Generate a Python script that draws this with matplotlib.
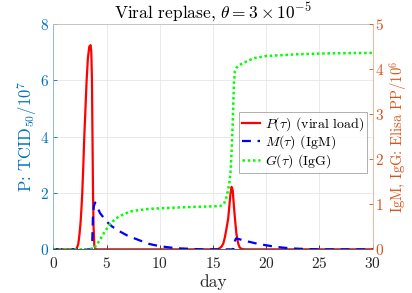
import numpy as np
import matplotlib
matplotlib.use('Agg')
import matplotlib.pyplot as plt

plt.rcParams['font.family'] = 'serif'
plt.rcParams['font.serif'] = ['cmr10']
plt.rcParams['mathtext.fontset'] = 'cm'
plt.rcParams['axes.formatter.use_mathtext'] = True

# P(tau): viral load, left axis (TCID50 / 1e7)
t_p = [0, 2.0, 2.2, 2.35, 2.45, 2.57, 2.65, 2.72, 2.82, 2.91, 3.02, 3.13, 3.25, 3.38,
       3.5, 3.57, 3.63, 3.68, 3.73, 3.78, 3.85, 3.95, 4.1,
       15.3, 15.6, 15.8, 15.96, 16.1, 16.25, 16.43, 16.55, 16.65, 16.75, 16.85, 16.95,
       17.06, 17.2, 17.37, 17.5, 17.7, 18.0, 30]
p_vals = [0, 0, 0.03, 0.2, 0.5, 1.0, 1.5, 2.0, 3.0, 4.0, 5.0, 6.0, 6.8, 7.2,
          7.25, 7.0, 6.0, 4.0, 2.0, 0.8, 0.15, 0.02, 0,
          0, 0.03, 0.1, 0.2, 0.4, 0.7, 1.1, 1.6, 2.0, 2.22, 2.1, 1.6,
          1.1, 0.55, 0.2, 0.07, 0.01, 0, 0]

# M(tau): IgM, right axis (Elisa PP / 1e6)
t_m = [0, 3.6, 3.66, 3.72, 3.8, 3.92, 4.1, 4.4, 5.0, 5.5, 6.3, 7.0, 8.1, 9.0, 10, 11,
       12, 13, 14, 16.9, 16.95, 17.05, 17.15, 17.4, 18, 19.25, 20, 20.8, 21.5, 22.4,
       23.5, 25, 30]
m_vals = [0, 0, 0.2, 0.7, 0.95, 1.04, 0.95, 0.8, 0.62, 0.51, 0.39, 0.3, 0.2, 0.12, 0.07,
          0.04, 0.02, 0.01, 0, 0, 0.05, 0.18, 0.24, 0.23, 0.19, 0.12, 0.09, 0.06, 0.04,
          0.02, 0.01, 0, 0]

# G(tau): IgG, right axis
t_g = [0, 3.7, 3.8, 4.0, 4.38, 4.8, 5.32, 5.8, 6.26, 7.2, 8.0, 9.08, 10.96, 12.8, 14.5,
       15.65, 16.0, 16.2, 16.4, 16.55, 16.66, 16.75, 16.85, 16.97, 17.06, 17.2, 17.5,
       17.8, 18.8, 20, 23, 26, 30]
g_vals = [0, 0, 0.02, 0.08, 0.21, 0.38, 0.56, 0.67, 0.74, 0.84, 0.87, 0.9, 0.92, 0.94,
          0.95, 0.96, 1.0, 1.1, 1.3, 1.5, 1.76, 2.2, 2.8, 3.7, 3.95, 4.03, 4.09, 4.13,
          4.24, 4.29, 4.33, 4.35, 4.36]

x_ticks = [0, 5, 10, 15, 20, 25, 30]
left_ticks = [0, 2, 4, 6, 8]
right_ticks = [0, 1, 2, 3, 4, 5]

c_left = '#0072BD'
c_right = '#D95319'

fig = plt.figure(figsize=(4.12, 2.93), dpi=100)
ax = fig.add_axes([0.1294, 0.149, 0.7752, 0.769])
ax2 = ax.twinx()

lp, = ax.plot(t_p, p_vals, color='red', lw=1.6, label=r'$P(\tau)$ (viral load)')
lm, = ax2.plot(t_m, m_vals, color='blue', lw=1.6, ls=(0, (4, 3)), label=r'$M(\tau)$ (IgM)')
lg, = ax2.plot(t_g, g_vals, color='#00FF00', lw=1.8, ls=(0, (1, 1.1)), label=r'$G(\tau)$ (IgG)')

ax.set_xlim(0, 30)
ax.set_ylim(0, 8)
ax2.set_ylim(0, 5)
ax.set_xticks(x_ticks)
ax.set_yticks(left_ticks)
ax2.set_yticks(right_ticks)

ax.grid(True, color='#e6e6e6', lw=0.6)
ax.set_axisbelow(True)

for a in (ax, ax2):
    a.tick_params(direction='in', length=3, width=0.6, labelsize=11, pad=3)
ax.tick_params(axis='y', colors=c_left)
ax.tick_params(axis='x', colors='#262626', labelcolor='#262626', pad=5)
ax2.tick_params(axis='y', colors=c_right, pad=2)

ax.spines['left'].set_color('#80b3dc')
ax2.spines['left'].set_visible(False)
ax.spines['right'].set_visible(False)
ax2.spines['right'].set_color('#ecaa8c')
ax.spines['top'].set_color('#bfbfbf')
ax2.spines['top'].set_visible(False)
ax.spines['bottom'].set_color('#404040')
ax2.spines['bottom'].set_visible(False)
for s in ax.spines.values():
    s.set_linewidth(0.6)
ax2.spines['right'].set_linewidth(0.6)

ax.set_xlabel('day', fontsize=12.5, color='#262626', labelpad=2)
ax.set_ylabel(r'P: TCID$_{50}/10^7$', fontsize=12, color=c_left, labelpad=1)
ax2.set_ylabel(r'IgM, IgG: Elisa PP$/10^6$', fontsize=10.5, color=c_right, labelpad=2)
ax.set_title(r'Viral replase, $\theta = 3\times10^{-5}$', fontsize=12.5, pad=4)

leg = ax2.legend(handles=[lp, lm, lg], loc='upper right', bbox_to_anchor=(0.983, 0.611),
                 fontsize=10, frameon=True, fancybox=False, edgecolor='#8c8c8c',
                 handlelength=1.3, handletextpad=0.3, borderpad=0.25, labelspacing=0.05,
                 borderaxespad=0)
leg.get_frame().set_linewidth(0.6)

fig.savefig('out.png', dpi=100)
